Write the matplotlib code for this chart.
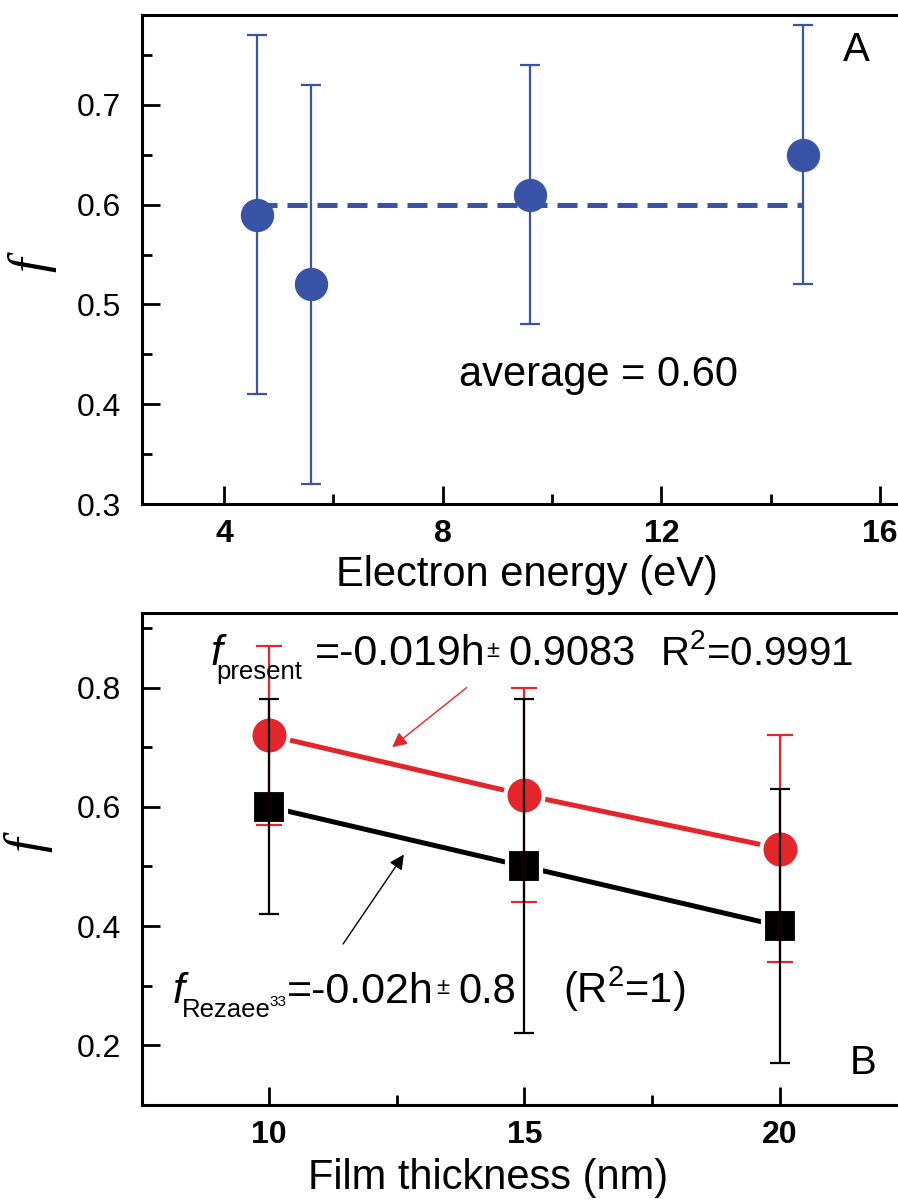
import numpy as np
import matplotlib.pyplot as plt

plt.rcParams['font.family'] = ['Liberation Sans', 'DejaVu Sans']
plt.rcParams['mathtext.fontset'] = 'custom'
plt.rcParams['mathtext.rm'] = 'Liberation Sans'
plt.rcParams['mathtext.it'] = 'Liberation Sans:italic'

# panel A data
energy = [4.6, 5.6, 9.6, 14.6]
f_energy = [0.59, 0.52, 0.61, 0.65]
f_energy_lo = [0.41, 0.32, 0.48, 0.52]
f_energy_hi = [0.77, 0.72, 0.74, 0.78]
avg_x = [4.6, 14.6]
avg_f = 0.60

# panel B data
thick = [10, 15, 20]
f_present = [0.72, 0.62, 0.53]
f_present_lo = [0.57, 0.44, 0.34]
f_present_hi = [0.87, 0.80, 0.72]
f_rezaee = [0.60, 0.50, 0.40]
f_rezaee_lo = [0.42, 0.22, 0.17]
f_rezaee_hi = [0.78, 0.78, 0.63]

blue = '#3953a6'
red = '#e3262b'

W, H = 898, 1201
fig = plt.figure(figsize=(W/100, H/100), dpi=100)
axA = fig.add_axes([142/W, 1-504/H, (W-142)/W, (504-15)/H])
axB = fig.add_axes([142/W, 1-1105/H, (W-142)/W, (1105-613)/H])


def style(ax):
    for s in ['left', 'bottom', 'top']:
        ax.spines[s].set_linewidth(2.2)
    ax.spines['right'].set_visible(False)
    ax.tick_params(which='both', direction='in', top=False, right=False, width=2.0)
    ax.tick_params(which='major', length=13)
    ax.tick_params(which='minor', length=7)
    ax.tick_params(axis='y', labelsize=23, pad=15)
    ax.tick_params(axis='x', labelsize=23, pad=11)
    for lab in ax.get_xticklabels():
        lab.set_fontweight('bold')


# ---- panel A
err = [np.array(f_energy) - np.array(f_energy_lo), np.array(f_energy_hi) - np.array(f_energy)]
axA.errorbar(energy, f_energy, yerr=err, fmt='none', ecolor=blue,
             elinewidth=1.6, capsize=7, capthick=1.6, zorder=3)
axA.plot(energy, f_energy, 'o', color=blue, ms=24, mew=0, zorder=4)
axA.plot(avg_x, [avg_f, avg_f], color=blue, lw=3.6, dashes=(4, 2), zorder=2)
axA.set_xlim(2.5, 16.33)
axA.set_ylim(0.3, 0.79)
axA.set_xticks([4, 8, 12, 16])
axA.set_xticks([6, 10, 14], minor=True)
axA.set_yticks([0.3, 0.4, 0.5, 0.6, 0.7])
axA.set_yticks(np.arange(0.35, 0.79, 0.1), minor=True)
axA.set_yticklabels(['0.3', '0.4', '0.5', '0.6', '0.7'])
style(axA)
axA.set_xlabel('Electron energy (eV)', fontsize=30)
axA.xaxis.set_label_coords(0.509, -0.105)
axA.set_ylabel('f', fontsize=38, family='Liberation Serif', style='italic')
axA.yaxis.label.set_va('center')
axA.yaxis.set_label_coords(-0.146, 0.49)
axA.text(10.86, 0.418, 'average = 0.60', fontsize=30, ha='center', va='baseline')
axA.text(15.57, 0.755, 'A', fontsize=29, ha='center', va='center')

# ---- panel B
axB.plot(thick, f_present, '-', color=red, lw=3.6, zorder=1)
axB.plot(thick, f_rezaee, '-', color='black', lw=3.6, zorder=1)
axB.plot(thick, f_present, 'o', color=red, ms=27.5, mec='white', mew=3, zorder=2)
axB.plot(thick, f_rezaee, 's', color='black', ms=24.6, mec='white', mew=3, zorder=2)
errp = [np.array(f_present) - np.array(f_present_lo), np.array(f_present_hi) - np.array(f_present)]
errr = [np.array(f_rezaee) - np.array(f_rezaee_lo), np.array(f_rezaee_hi) - np.array(f_rezaee)]
axB.errorbar(thick, f_present, yerr=errp, fmt='none', ecolor=red, elinewidth=1.6,
             capsize=9.5, capthick=1.6, zorder=3)
axB.errorbar(thick, f_rezaee, yerr=errr, fmt='none', ecolor='black', elinewidth=1.6,
             capsize=7, capthick=1.6, zorder=4)
axB.set_xlim(7.515, 22.31)
axB.set_ylim(0.1, 0.925)
axB.set_xticks([10, 15, 20])
axB.set_xticks([12.5, 17.5], minor=True)
axB.set_yticks([0.2, 0.4, 0.6, 0.8])
axB.set_yticks([0.3, 0.5, 0.7, 0.9], minor=True)
axB.set_yticklabels(['0.2', '0.4', '0.6', '0.8'])
style(axB)
axB.set_xlabel('Film thickness (nm)', fontsize=30)
axB.xaxis.set_label_coords(0.458, -0.108)
axB.set_ylabel('f', fontsize=38, family='Liberation Serif', style='italic')
axB.yaxis.label.set_va('center')
axB.yaxis.set_label_coords(-0.151, 0.53)

# fit equations
axB.text(8.865, 0.837, 'f', fontsize=31, style='italic', va='baseline')
axB.text(8.96, 0.815, 'present', fontsize=18.5, va='baseline')
axB.text(10.90, 0.837, '=-0.019h', fontsize=31, va='baseline')
axB.text(14.25, 0.852, '\u00b1', fontsize=17, va='baseline')
axB.text(14.68, 0.837, '0.9083', fontsize=30, va='baseline')
axB.text(17.65, 0.837, 'R$^2$=0.9991', fontsize=29, va='baseline')

axB.text(8.11, 0.271, 'f', fontsize=31, style='italic', va='baseline')
axB.text(8.30, 0.247, 'Rezaee', fontsize=18.5, va='baseline')
axB.text(10.0, 0.266, '33', fontsize=11, va='baseline')
axB.text(10.36, 0.271, '=-0.02h', fontsize=31, va='baseline')
axB.text(13.27, 0.286, '\u00b1', fontsize=17, va='baseline')
axB.text(13.70, 0.271, '0.8', fontsize=30, va='baseline')
axB.text(15.75, 0.271, '(R$^2$=1)', fontsize=30, va='baseline')

axB.annotate('', xy=(12.41, 0.70), xytext=(13.87, 0.80),
             arrowprops=dict(arrowstyle='-|>', color=red, lw=1.0, mutation_scale=22,
                             shrinkA=0, shrinkB=0))
axB.annotate('', xy=(12.64, 0.52), xytext=(11.45, 0.37),
             arrowprops=dict(arrowstyle='-|>', color='black', lw=1.0, mutation_scale=22,
                             shrinkA=0, shrinkB=0))
axB.text(21.62, 0.171, 'B', fontsize=29, ha='center', va='center')

fig.savefig('out.png', dpi=100)
